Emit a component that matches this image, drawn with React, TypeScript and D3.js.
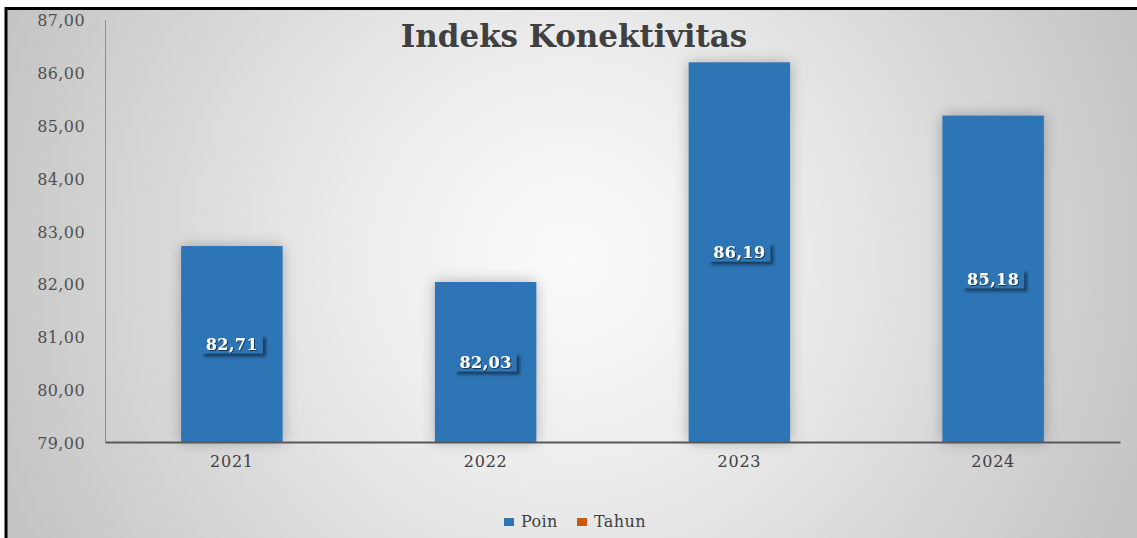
import { useRef, useEffect } from "react";
import * as d3 from "d3";

const years = ["2021", "2022", "2023", "2024"];
const poin = [82.71, 82.03, 86.19, 85.18];
const yTicks = [79, 80, 81, 82, 83, 84, 85, 86, 87];
const legendItems = [
  { label: "Poin", color: "#2E75B6" },
  { label: "Tahun", color: "#C55A11" },
];

const W = 1137;
const H = 538;
const SERIF = "'DejaVu Serif', 'Liberation Serif', serif";

const fmtComma = (v: number) => d3.format(".2f")(v).replace(".", ",");

export default function App() {
  const svgRef = useRef<SVGSVGElement>(null);

  useEffect(() => {
    if (!svgRef.current) return;
    const svg = d3.select(svgRef.current);
    svg.selectAll("*").remove();
    svg.attr("width", W).attr("height", H);

    const margin = { top: 19.5, right: 17, bottom: 96, left: 105 };
    const x0 = margin.left;
    const x1 = W - margin.right;
    const yBase = H - margin.bottom;

    const defs = svg.append("defs");
    const grad = defs
      .append("radialGradient")
      .attr("id", "bg")
      .attr("gradientUnits", "userSpaceOnUse")
      .attr("cx", 570)
      .attr("cy", 260)
      .attr("r", 620);
    grad.append("stop").attr("offset", "0").attr("stop-color", "#fbfbfb");
    grad.append("stop").attr("offset", "0.35").attr("stop-color", "#ececec");
    grad.append("stop").attr("offset", "1").attr("stop-color", "#c3c3c3");

    const glow = defs.append("filter").attr("id", "glow").attr("x", "-30%").attr("y", "-10%").attr("width", "160%").attr("height", "120%");
    glow
      .append("feDropShadow")
      .attr("dx", 0)
      .attr("dy", 0)
      .attr("stdDeviation", 7)
      .attr("flood-color", "#000")
      .attr("flood-opacity", 0.28);

    const lblShadow = defs.append("filter").attr("id", "lbl").attr("x", "-20%").attr("y", "-30%").attr("width", "150%").attr("height", "180%");
    lblShadow
      .append("feDropShadow")
      .attr("dx", 3)
      .attr("dy", 3)
      .attr("stdDeviation", 1.5)
      .attr("flood-color", "#0a2540")
      .attr("flood-opacity", 0.75);

    const txtShadow = defs.append("filter").attr("id", "txt");
    txtShadow
      .append("feDropShadow")
      .attr("dx", 1)
      .attr("dy", 1)
      .attr("stdDeviation", 0.6)
      .attr("flood-color", "#0a2540")
      .attr("flood-opacity", 0.8);

    // background + frame
    svg.append("rect").attr("width", W).attr("height", H).attr("fill", "#fff");
    svg
      .append("rect")
      .attr("x", 6)
      .attr("y", 8.5)
      .attr("width", W)
      .attr("height", H)
      .attr("fill", "url(#bg)")
      .attr("stroke", "#000")
      .attr("stroke-width", 3);

    const x = d3
      .scaleBand()
      .domain(years)
      .range([x0, x1])
      .paddingInner(0.6)
      .paddingOuter(0.3);

    const y = d3.scaleLinear().domain([79, 87]).range([yBase, margin.top]);

    // title
    svg
      .append("text")
      .attr("x", 574)
      .attr("y", 47)
      .attr("text-anchor", "middle")
      .style("font-family", SERIF)
      .style("font-weight", "bold")
      .style("font-size", "31px")
      .style("fill", "#404040")
      .text("Indeks Konektivitas");

    // y axis
    const yAxis = svg
      .append("g")
      .attr("transform", `translate(${x0},0)`)
      .call(d3.axisLeft(y).tickValues(yTicks).tickSize(0).tickPadding(20).tickFormat((d) => fmtComma(d as number)));
    yAxis.select(".domain").attr("stroke", "#5B9BD5").attr("stroke-width", 1);
    yAxis
      .selectAll("text")
      .attr("dy", "0.4em")
      .style("font-family", SERIF)
      .style("font-size", "16px")
      .style("letter-spacing", "0.4px")
      .style("fill", "#505050");

    // bars
    svg
      .append("g")
      .selectAll("rect")
      .data(poin)
      .join("rect")
      .attr("x", (_, i) => x(years[i]) || 0)
      .attr("y", (d) => y(d))
      .attr("width", x.bandwidth())
      .attr("height", (d) => yBase - y(d))
      .attr("fill", "#2E75B6")
      .attr("filter", "url(#glow)");

    // x axis
    const xAxis = svg
      .append("g")
      .attr("transform", `translate(0,${yBase})`)
      .call(d3.axisBottom(x).tickSize(0).tickPadding(14));
    xAxis.select(".domain").attr("stroke", "#595959").attr("stroke-width", 2);
    xAxis
      .selectAll("text")
      .style("font-family", SERIF)
      .style("font-size", "16px")
      .style("letter-spacing", "0.8px")
      .style("fill", "#404040");

    // data labels
    const lbl = svg
      .append("g")
      .selectAll("g")
      .data(poin)
      .join("g")
      .attr("transform", (d, i) => `translate(${(x(years[i]) || 0) + x.bandwidth() / 2},${(y(d) + yBase) / 2})`);
    lbl
      .append("rect")
      .attr("x", -31)
      .attr("y", -9.5)
      .attr("width", 62)
      .attr("height", 19)
      .attr("fill", "#2E75B6")
      .attr("filter", "url(#lbl)");
    lbl
      .append("text")
      .attr("text-anchor", "middle")
      .attr("dy", "0.37em")
      .attr("filter", "url(#txt)")
      .style("font-family", SERIF)
      .style("font-weight", "bold")
      .style("font-size", "16px")
      .style("letter-spacing", "0.4px")
      .style("fill", "#fff")
      .text((d) => fmtComma(d));

    // legend
    const legend = svg.append("g").attr("transform", "translate(504,527)");
    let off = 0;
    legendItems.forEach((s, i) => {
      const lg = legend.append("g").attr("transform", `translate(${off},0)`);
      lg.append("rect").attr("x", 0).attr("y", -9).attr("width", 10).attr("height", 8).attr("fill", s.color);
      lg.append("text")
        .attr("x", 17)
        .attr("y", 0)
        .style("font-family", SERIF)
        .style("font-size", "16px")
        .style("letter-spacing", "0.4px")
        .style("fill", "#404040")
        .text(s.label);
      off += i === 0 ? 73 : 0;
    });
  }, []);

  return (
    <div style={{ position: "fixed", left: 0, top: 0, width: W, height: H, overflow: "hidden" }}>
      <svg ref={svgRef} style={{ display: "block" }} />
    </div>
  );
}
